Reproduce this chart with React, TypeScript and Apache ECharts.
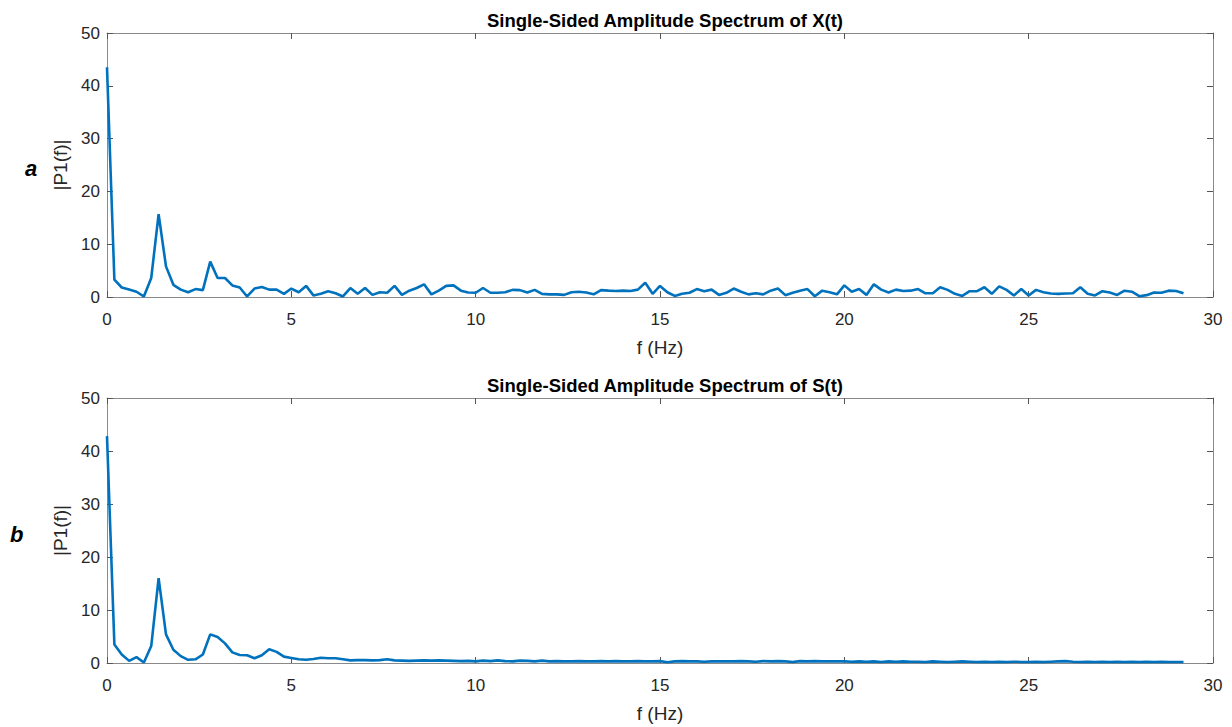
import React, { useEffect, useRef } from "react";
import * as echarts from "echarts";

const FREQ_STEP = 0.2; // Hz between spectrum bins
const X_TICKS = [0, 5, 10, 15, 20, 25, 30];
const Y_TICKS = [0, 10, 20, 30, 40, 50];

const titleA = "Single-Sided Amplitude Spectrum of X(t)";
const titleB = "Single-Sided Amplitude Spectrum of S(t)";

// |P1(f)| of X(t), bins 0 .. 29.2 Hz
const ampX = [
  43.5, 3.3, 1.8, 1.4, 1.0, 0.1, 3.6, 15.7, 5.8, 2.3,
  1.4, 0.9, 1.5, 1.3, 6.7, 3.6, 3.6, 2.2, 1.8, 0.1,
  1.6, 1.9, 1.4, 1.4, 0.6, 1.6, 0.9, 2.1, 0.3, 0.6,
  1.1, 0.7, 0.1, 1.7, 0.6, 1.7, 0.4, 0.9,
  0.8, 2.1, 0.4, 1.2, 1.7, 2.4, 0.5, 1.2, 2.1, 2.2,
  1.2, 0.85, 0.8, 1.7, 0.8, 0.8, 0.9, 1.35, 1.3, 0.85,
  1.35, 0.6, 0.5, 0.5, 0.4, 0.9, 1.0, 0.85, 0.5, 1.3,
  1.2, 1.15, 1.2, 1.15, 1.4, 2.7, 0.6,
  2.1, 0.9, 0.2, 0.6, 0.8, 1.5, 1.1, 1.4, 0.4, 0.8,
  1.6, 1.0, 0.5, 0.7, 0.5, 1.2, 1.6, 0.35, 0.8, 1.2,
  1.5, 0.15, 1.2, 0.9, 0.5, 2.2, 1.0, 1.5, 0.4, 2.4,
  1.4, 0.85, 1.4, 1.15, 1.2, 1.5, 0.7, 0.7, 1.85, 1.35,
  0.6, 0.2, 1.1, 1.1, 1.85, 0.6, 2.0, 1.35, 0.3, 1.5,
  0.3, 1.35, 0.9, 0.65, 0.6, 0.65, 0.7, 1.85, 0.6, 0.3,
  1.1, 0.85, 0.4, 1.2, 1.0, 0.15, 0.35, 0.85, 0.8, 1.2,
  1.15, 0.7,
];

// |P1(f)| of S(t), bins 0 .. 29.2 Hz
const ampS = [
  42.8, 3.5, 1.6, 0.4, 1.1, 0.1, 3.2, 16.0, 5.4, 2.5,
  1.3, 0.6, 0.7, 1.6, 5.4, 4.9, 3.7, 2.0, 1.5, 1.45,
  0.9, 1.45, 2.6, 2.1, 1.2, 0.95, 0.7, 0.6, 0.75, 1.0,
  0.9, 0.9, 0.7, 0.5, 0.55, 0.55, 0.5, 0.55,
  0.7, 0.5, 0.45, 0.4, 0.45, 0.5, 0.45, 0.5, 0.45, 0.4,
  0.35, 0.4, 0.3, 0.45, 0.35, 0.5, 0.35, 0.3, 0.45, 0.4,
  0.3, 0.45, 0.3, 0.35, 0.3, 0.3, 0.35, 0.3, 0.3, 0.35,
  0.3, 0.35, 0.3, 0.3, 0.35, 0.3, 0.3,
  0.35, 0.15, 0.3, 0.35, 0.3, 0.3, 0.25, 0.3, 0.3, 0.3,
  0.3, 0.35, 0.3, 0.25, 0.35, 0.3, 0.35, 0.3, 0.2, 0.35,
  0.3, 0.35, 0.3, 0.3, 0.3, 0.3, 0.25, 0.3, 0.25, 0.3,
  0.2, 0.3, 0.25, 0.3, 0.25, 0.25, 0.2, 0.3, 0.25, 0.2,
  0.25, 0.3, 0.25, 0.2, 0.25, 0.2, 0.25, 0.2, 0.25, 0.2,
  0.2, 0.25, 0.2, 0.25, 0.3, 0.35, 0.25, 0.2, 0.25, 0.2,
  0.25, 0.2, 0.25, 0.2, 0.25, 0.2, 0.25, 0.2, 0.25, 0.2,
  0.2, 0.2,
];

const FONT = "'Liberation Sans', Arial, Helvetica, sans-serif";
const AXIS_COLOR = "#8a8a8a";
const TEXT_COLOR = "#262626";
const LINE_COLOR = "#0072BD";

function toPairs(arr: number[]) {
  return arr.map((v, i) => [+(i * FREQ_STEP).toFixed(2), v]);
}

export default function App() {
  const ref = useRef<HTMLDivElement>(null);
  useEffect(() => {
    if (!ref.current) return;
    const chart = echarts.init(ref.current, undefined, { renderer: "svg" });
    const grids = [
      { left: 107, right: 19, top: 33, height: 264 },
      { left: 107, right: 19, top: 398, height: 265 },
    ];
    const xAxes: any[] = [];
    const yAxes: any[] = [];
    grids.forEach((_, gi) => {
      const base = {
        gridIndex: gi,
        type: "value",
        min: X_TICKS[0],
        max: X_TICKS[X_TICKS.length - 1],
        interval: X_TICKS[1] - X_TICKS[0],
        axisLine: { show: true, onZero: false, lineStyle: { color: AXIS_COLOR, width: 1 } },
        axisTick: { show: true, inside: true, length: 6, lineStyle: { color: "#555" } },
        splitLine: { show: false },
      };
      xAxes.push({
        ...base,
        position: "bottom",
        name: "f (Hz)",
        nameLocation: "middle",
        nameGap: 41,
        nameTextStyle: { fontFamily: FONT, fontSize: 19, color: TEXT_COLOR },
        axisLabel: { fontFamily: FONT, fontSize: 17, color: TEXT_COLOR, margin: 14 },
      });
      xAxes.push({ ...base, position: "top", axisLabel: { show: false } });
      const ybase = {
        gridIndex: gi,
        type: "value",
        min: Y_TICKS[0],
        max: Y_TICKS[Y_TICKS.length - 1],
        interval: Y_TICKS[1] - Y_TICKS[0],
        axisLine: { show: true, onZero: false, lineStyle: { color: AXIS_COLOR, width: 1 } },
        axisTick: { show: true, inside: true, length: 6, lineStyle: { color: "#555" } },
        splitLine: { show: false },
      };
      yAxes.push({
        ...ybase,
        position: "left",
        name: "|P1(f)|",
        nameLocation: "middle",
        nameGap: 26,
        nameTextStyle: { fontFamily: FONT, fontSize: 19, color: TEXT_COLOR },
        axisLabel: { fontFamily: FONT, fontSize: 17, color: TEXT_COLOR, margin: 7 },
      });
      yAxes.push({ ...ybase, position: "right", axisLabel: { show: false } });
    });

    const centerX = 107 + (1232 - 107 - 19) / 2;
    chart.setOption({
      animation: false,
      backgroundColor: "#ffffff",
      title: [
        {
          text: titleA,
          left: centerX,
          textAlign: "center",
          top: 6,
          textStyle: { fontFamily: FONT, fontSize: 18.5, fontWeight: "bold", color: "#000" },
        },
        {
          text: titleB,
          left: centerX,
          textAlign: "center",
          top: 371,
          textStyle: { fontFamily: FONT, fontSize: 18.5, fontWeight: "bold", color: "#000" },
        },
      ],
      grid: grids.map((g) => ({ ...g, show: false })),
      xAxis: xAxes,
      yAxis: yAxes,
      graphic: [
        {
          type: "text",
          left: 25,
          top: 157,
          style: { text: "a", font: `italic bold 22px ${FONT}`, fill: "#000" },
        },
        {
          type: "text",
          left: 10,
          top: 523,
          style: { text: "b", font: `italic bold 22px ${FONT}`, fill: "#000" },
        },
      ],
      series: [
        {
          type: "line",
          xAxisIndex: 0,
          yAxisIndex: 0,
          data: toPairs(ampX),
          showSymbol: false,
          lineStyle: { color: LINE_COLOR, width: 2.6 },
          itemStyle: { color: LINE_COLOR },
        },
        {
          type: "line",
          xAxisIndex: 2,
          yAxisIndex: 2,
          data: toPairs(ampS),
          showSymbol: false,
          lineStyle: { color: LINE_COLOR, width: 2.6 },
          itemStyle: { color: LINE_COLOR },
        },
      ],
    });
    return () => chart.dispose();
  }, []);
  return <div ref={ref} style={{ width: 1232, height: 727, position: "absolute", left: 0, top: 0 }} />;
}
